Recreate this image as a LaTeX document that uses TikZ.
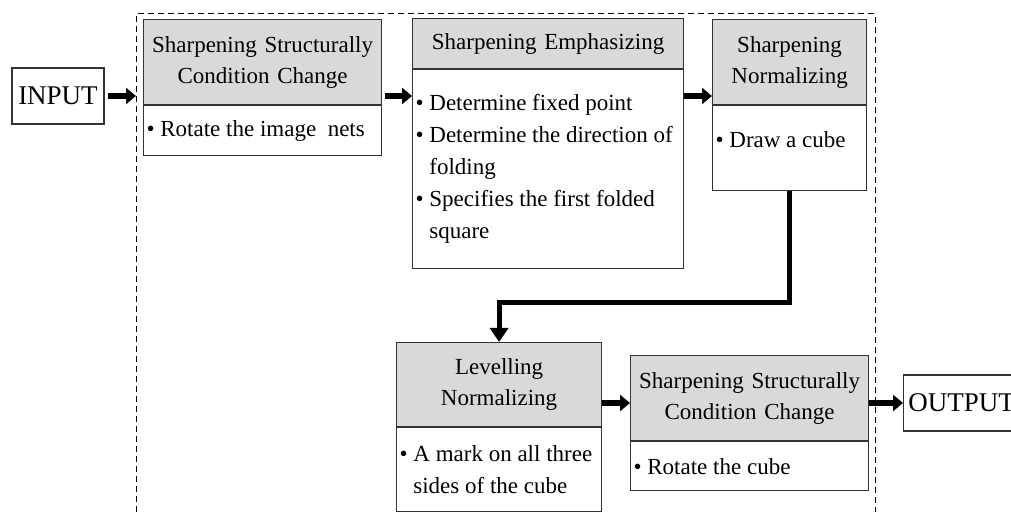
\documentclass[tikz,border=0pt]{standalone}
\usepackage{fontspec}
\setmainfont{Liberation Serif}
\usetikzlibrary{arrows.meta}

\tikzset{
  headbox/.style={draw=black!80, fill=black!15, line width=0.6pt, align=center, inner sep=0pt, anchor=north west, font=\fontsize{11.5}{15.5}\selectfont},
  bodybox/.style={draw=black!80, fill=white, line width=0.6pt, align=flush left, inner xsep=1.5pt, inner ysep=0pt, anchor=north west, font=\fontsize{11.5}{16}\selectfont},
  termbox/.style={draw=black!80, line width=0.6pt, inner sep=0pt, minimum height=28pt, font=\fontsize{13.5}{16}\selectfont},
  bigarrow/.style={line width=3pt, -{Triangle[length=5pt,width=8pt]}},
  turnarrow/.style={line width=2.5pt, -{Triangle[length=7pt,width=9pt]}},
  dashframe/.style={line width=0.5pt, dash pattern=on 3pt off 2pt}
}

\begin{document}
\begin{tikzpicture}[x=0.5pt, y=-0.5pt]
        \useasboundingbox (0,0) rectangle (1011,512);
        \clip (0,0) rectangle (1011,512);

        % dashed frame
        \draw[dashframe] (136,512) |- (875,14) -- (875,512);

        \node[termbox, minimum width=46pt] (in) at (58,96) {INPUT};

        % first row
        \node[headbox, minimum width=119pt, minimum height=42.5pt, text width=119pt] (h1) at (143,19) {Sharpening Structurally\\Condition Change};
        \node[bodybox, minimum width=119pt, minimum height=25pt, text width=116pt] (b1) at (h1.south west) {\textbullet\ Rotate the image\ \ nets};

        \node[headbox, minimum width=135.5pt, minimum height=25pt, text width=135.5pt] (h2) at (412,18) {Sharpening Emphasizing};
        \node[bodybox, minimum width=135.5pt, minimum height=99.5pt, text width=132.5pt] (b2) at (h2.south west) {\textbullet\ Determine fixed point\\\textbullet\ Determine the direction of\\\phantom{\textbullet\ }folding\\\textbullet\ Specifies the first folded\\\phantom{\textbullet\ }square};

        \node[headbox, minimum width=77pt, minimum height=42.5pt, text width=77pt] (h3) at (712,19) {Sharpening\\Normalizing};
        \node[bodybox, minimum width=77pt, minimum height=42.5pt, text width=74pt, text depth=9pt] (b3) at (h3.south west) {\textbullet\ Draw a cube};

        % second row
        \node[headbox, minimum width=102.5pt, minimum height=42pt, text width=102.5pt] (h4) at (396,342) {Levelling\\Normalizing};
        \node[bodybox, minimum width=102.5pt, minimum height=42pt, text width=99.5pt] (b4) at (h4.south west) {\textbullet\ A mark on all three\\\phantom{\textbullet\ }sides of the cube};

        \node[headbox, minimum width=119pt, minimum height=42.5pt, text width=119pt] (h5) at (630,355) {Sharpening Structurally\\Condition Change};
        \node[bodybox, minimum width=119pt, minimum height=24.5pt, text width=116pt] (b5) at (h5.south west) {\textbullet\ Rotate the cube};

        \node[termbox, minimum width=58pt, anchor=west] (out) at (903,403) {OUTPUT};

        % arrows
        \draw[bigarrow, shorten <=1.5pt, shorten >=3.5pt] (in) -- (in -| h1.west);
        \draw[bigarrow, shorten <=1.5pt] (in -| h1.east) -- (in -| b2.west);
        \draw[bigarrow] (in -| b2.east) -- (in -| h3.west);
        \coordinate (turn) at (h4.north |- 0,303);
        \draw[turnarrow] (b3.south) |- (turn) -- (h4.north);
        \draw[bigarrow] (out -| h4.east) -- (out -| h5.west);
        \draw[bigarrow] (out -| h5.east) -- (out);
    \end{tikzpicture}
\end{document}
